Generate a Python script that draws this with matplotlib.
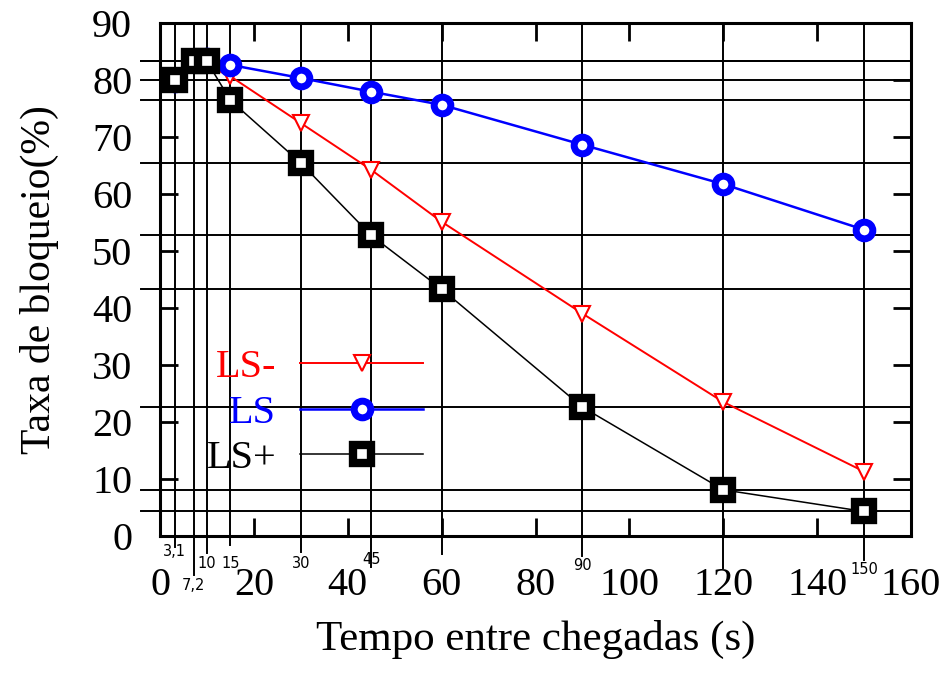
import matplotlib
matplotlib.use("Agg")
import matplotlib.pyplot as plt
import matplotlib.transforms as mtransforms

# intervalo entre chegadas (s)
tempo = [3.1, 7.2, 10, 15, 30, 45, 60, 90, 120, 150]
tempo_labels = ["3,1", "7,2", "10", "15", "30", "45", "", "90", "", "150"]

# taxa de bloqueio (%)
ls_menos = [79.5, 83.0, 82.5, 80.6, 72.4, 64.2, 55.1, 39.0, 23.5, 11.3]
ls = [79.8, 83.3, 83.6, 82.6, 80.3, 77.9, 75.6, 68.6, 61.7, 53.7]
ls_mais = [79.9, 83.3, 83.2, 76.4, 65.4, 52.7, 43.3, 22.6, 8.1, 4.3]

xticks = [0, 20, 40, 60, 80, 100, 120, 140, 160]
yticks = [0, 10, 20, 30, 40, 50, 60, 70, 80, 90]

# comprimento das marcas abaixo do eixo (px) e posicao do rotulo
drop_px = [11, 39, 17, 9, 16, 31, 18, 20, 32, 24]
lab_px = [15, 49, 27, 27, 27, 23, 0, 29, 0, 34]

plt.rcParams["font.family"] = ["Liberation Serif", "DejaVu Serif"]

fig = plt.figure(figsize=(9.48, 6.75), dpi=100)
ax = fig.add_axes([160 / 948, 1 - 536 / 675, 751 / 948, 513.3 / 675])
ax_h = 513.3

trans_x = mtransforms.blended_transform_factory(ax.transData, ax.transAxes)
trans_y = mtransforms.blended_transform_factory(ax.transAxes, ax.transData)

# linhas verticais nos pontos medidos, descendo abaixo do eixo
for xv, d, lab, lp in zip(tempo, drop_px, tempo_labels, lab_px):
    ax.plot([xv, xv], [-d / ax_h, 1], color="black", lw=1.4,
            transform=trans_x, clip_on=False, zorder=1)
    if lab:
        ax.text(xv, -lp / ax_h, lab, transform=trans_x, ha="center", va="center",
                fontsize=10.5, family="DejaVu Sans", zorder=6)

# linhas horizontais nos valores de LS+
for yv in ls_mais:
    ax.plot([-0.025, 1.0], [yv, yv], color="black", lw=1.4,
            transform=trans_y, clip_on=False, zorder=1)

ax.plot(tempo, ls_menos, color="red", lw=1.4, marker="v", ms=11,
        mfc="white", mec="red", mew=1.5, label="LS-", zorder=3)
ax.plot(tempo, ls, color="blue", lw=1.8, marker="o", ms=12,
        mfc="white", mec="blue", mew=5, label="LS", zorder=4)
ax.plot(tempo, ls_mais, color="black", lw=1.1, marker="s", ms=13,
        mfc="white", mec="black", mew=6, label="LS+", zorder=5)

ax.set_xlim(0, 160)
ax.set_ylim(0, 90)
ax.set_xticks(xticks)
ax.set_yticks(yticks)
ax.tick_params(direction="in", top=True, right=True, length=13, width=2,
               labelsize=29)
ax.tick_params(axis="x", pad=22)
ax.tick_params(axis="y", pad=20)
for s in ax.spines.values():
    s.set_linewidth(2.2)

ax.set_xlabel("Tempo entre chegadas (s)", fontsize=31, labelpad=12)
ax.set_ylabel("Taxa de bloqueio(%)", fontsize=30, labelpad=24)

leg = ax.legend(loc="upper left", bbox_to_anchor=(0.035, 0.403), frameon=False,
                markerfirst=False, labelcolor="linecolor", fontsize=29,
                handlelength=3.05, handletextpad=0.6, labelspacing=0.2,
                numpoints=1, borderpad=0)
for t in leg.get_texts():
    t.set_ha("right")

fig.savefig("out.png", dpi=100)
